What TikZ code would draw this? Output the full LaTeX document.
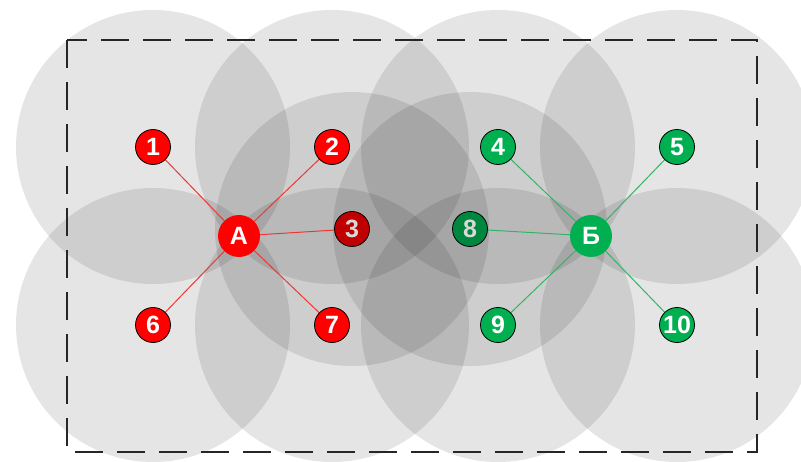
\documentclass[tikz,border=0pt]{standalone}
\usepackage{fontspec}
\setmainfont{Liberation Sans}
\usepackage{amsmath,tikz}

\definecolor{nodered}{HTML}{FF0000}
\definecolor{darkred}{HTML}{C00000}
\definecolor{nodegreen}{HTML}{00B050}
\definecolor{darkgreen}{HTML}{00873F}
\definecolor{labelgrey}{HTML}{D9D9D9}
\definecolor{linkred}{HTML}{F03535}
\definecolor{linkgreen}{HTML}{30B566}

\begin{document}
\begin{tikzpicture}[x=1pt,y=-1pt,
  zone/.style={fill=black,fill opacity=0.1},
  frame/.style={draw=black!85,line width=1.5pt,dash pattern=on 28pt off 14pt},
  station/.style={circle,draw=black,line width=0.8pt,minimum size=35pt,inner sep=0pt,
    text=white,font=\fontsize{25}{25}\selectfont\bfseries},
  hub/.style={circle,minimum size=42pt,inner sep=0pt,
    text=white,font=\fontsize{25}{25}\selectfont\bfseries},
  redlink/.style={draw=linkred,line width=1pt},
  greenlink/.style={draw=linkgreen,line width=1pt}]

\useasboundingbox (0,0) rectangle (801,462);

\foreach \n/\x/\y in {1/153/147,2/332/147,3/352/229,4/498/147,5/677/147,
  6/153/325,7/332/325,8/470/229,9/498/325,10/677/325}
  \coordinate (c\n) at (\x,\y);

% zones
\foreach \n in {1,...,10}
  \fill[zone] (c\n) circle (137pt);

\draw[frame] (67,40) rectangle (757,452);

% stations
\node[hub,fill=nodered] (A) at (239,236) {A};
\node[hub,fill=nodegreen] (B) at (591,236) {Б};

\foreach \n in {1,2,6,7}
  \node[station,fill=nodered] (n\n) at (c\n) {\n};
\node[station,fill=darkred,text=labelgrey] (n3) at (c3) {3};

\foreach \n in {4,5,9,10}
  \node[station,fill=nodegreen] (n\n) at (c\n) {\n};
\node[station,fill=darkgreen,text=labelgrey] (n8) at (c8) {8};

% links
\foreach \n in {1,2,3,6,7}
  \draw[redlink] (A) -- (n\n);
\foreach \n in {4,5,8,9,10}
  \draw[greenlink] (B) -- (n\n);

\end{tikzpicture}
\end{document}
